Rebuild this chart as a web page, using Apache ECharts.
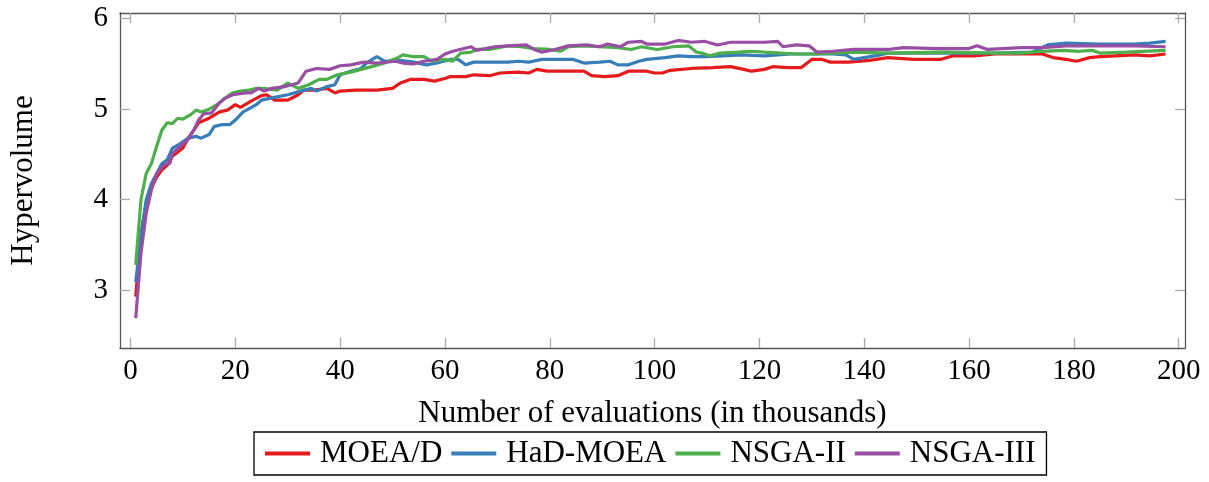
<!DOCTYPE html>
<html>
<head>
<meta charset="utf-8">
<title>Hypervolume</title>
<script src="https://cdn.jsdelivr.net/npm/echarts@6/dist/echarts.min.js"></script>
<style>
  html, body { margin: 0; padding: 0; background: #fff; }
  #main { width: 1209px; height: 482px; }
</style>
</head>
<body>
<div id="main"></div>
<script>
// legend names and colours
var names = ['MOEA/D', 'HaD-MOEA', 'NSGA-II', 'NSGA-III'];
var colors = ['#e41a1c', '#377eb8', '#4daf4a', '#984ea3'];

// tick labels
var xTicks = [0, 20, 40, 60, 80, 100, 120, 140, 160, 180, 200];
var yTicks = [3, 4, 5, 6];

// [evaluations (thousands), hypervolume]
var moead = [[1,2.93],[2,3.62],[3,3.96],[4,4.13],[5,4.25],[6,4.33],[7,4.38],[8,4.48],[10,4.57],[11,4.68],[12,4.76],[13,4.85],[15,4.90],[17,4.97],[18.5,4.99],[20,5.05],[21,5.02],[23,5.09],[25,5.15],[26,5.16],[27.5,5.10],[30,5.10],[32,5.16],[33,5.21],[35,5.21],[37.5,5.23],[39,5.18],[40,5.20],[43,5.21],[47,5.21],[50,5.23],[51.5,5.29],[53.5,5.33],[56,5.33],[58,5.31],[60,5.34],[61,5.36],[64,5.36],[65.5,5.38],[68.5,5.37],[70.5,5.40],[74,5.41],[76,5.40],[77.5,5.44],[79.5,5.42],[83.5,5.42],[86.5,5.42],[88,5.37],[90.5,5.36],[93,5.37],[95,5.42],[98.5,5.42],[100,5.40],[101.5,5.40],[103,5.43],[107,5.45],[111,5.46],[114.5,5.47],[117,5.44],[118.5,5.42],[121,5.44],[122.5,5.47],[125.5,5.46],[128,5.46],[130,5.55],[132,5.55],[133.5,5.52],[137,5.52],[141,5.54],[144.5,5.57],[149.5,5.55],[154.5,5.55],[157,5.59],[161,5.59],[165,5.61],[170,5.61],[174,5.61],[176,5.57],[178.5,5.55],[180.5,5.53],[183,5.57],[185,5.58],[188,5.59],[191.5,5.60],[194.5,5.59],[197.5,5.61]];

var hadMoea = [[1,3.09],[2,3.59],[3,4.0],[4,4.18],[6,4.40],[7,4.44],[8,4.57],[9.5,4.62],[11,4.68],[12.5,4.70],[13.5,4.68],[15,4.72],[16,4.81],[17.5,4.83],[19,4.83],[20,4.88],[21.5,4.97],[22.5,5.0],[24,5.05],[25,5.10],[27.5,5.13],[30,5.16],[32.5,5.20],[34.5,5.23],[35.5,5.20],[37.5,5.25],[39,5.27],[40,5.38],[42,5.42],[44,5.45],[45,5.51],[47,5.58],[48.5,5.53],[51.5,5.54],[54,5.52],[56.5,5.49],[58.5,5.51],[61,5.55],[62.5,5.55],[64,5.49],[65.5,5.52],[69,5.52],[72,5.52],[74,5.53],[76,5.52],[78.5,5.55],[84.5,5.55],[86.5,5.51],[89.5,5.52],[91.5,5.53],[93,5.49],[95,5.49],[97,5.53],[98.5,5.55],[102,5.57],[104.5,5.59],[107,5.58],[109.5,5.58],[113,5.59],[116.5,5.60],[121,5.59],[126,5.61],[134,5.61],[136.5,5.60],[138,5.55],[140,5.57],[143,5.60],[144.5,5.62],[155,5.62],[165,5.62],[172,5.63],[175,5.71],[178.5,5.73],[185,5.72],[191.5,5.72],[194.5,5.73],[197.5,5.75]];

var nsga2 = [[1,3.28],[2,4.0],[3,4.29],[4,4.40],[5,4.59],[6,4.77],[7,4.85],[8,4.84],[9,4.90],[10,4.89],[11.5,4.94],[12.5,4.99],[13.5,4.97],[15,5.0],[16.5,5.05],[18,5.12],[19.5,5.18],[21,5.20],[22.5,5.21],[24,5.23],[25.5,5.23],[28,5.21],[30,5.29],[32,5.23],[34,5.27],[36,5.33],[37.5,5.33],[39.5,5.38],[42,5.41],[44,5.44],[46,5.47],[48.5,5.51],[51,5.57],[52,5.60],[54,5.58],[56,5.58],[57.5,5.53],[60,5.55],[61.5,5.53],[63,5.62],[65,5.63],[66,5.66],[68.5,5.66],[72,5.70],[74.5,5.69],[77,5.67],[80,5.66],[82,5.64],[83.5,5.69],[86.5,5.70],[89.5,5.69],[93,5.68],[95.5,5.66],[97.5,5.69],[100.5,5.66],[103.5,5.69],[106.5,5.70],[108,5.63],[109,5.62],[110.5,5.59],[112.5,5.62],[116,5.63],[118.5,5.64],[121,5.63],[124,5.62],[127,5.61],[130.5,5.61],[134,5.62],[138,5.63],[145,5.62],[155,5.63],[165,5.62],[170,5.62],[174,5.64],[178,5.65],[181,5.64],[183.5,5.65],[185,5.62],[190,5.63],[197.5,5.65]];

var nsga3 = [[1,2.69],[2,3.41],[3,3.85],[4,4.11],[5,4.29],[6.5,4.39],[7.5,4.40],[8,4.51],[9.5,4.59],[11,4.67],[12,4.76],[13,4.88],[14,4.95],[15.5,4.96],[17,5.07],[18,5.12],[19.5,5.16],[22,5.18],[23,5.18],[24.5,5.23],[25.5,5.20],[27,5.23],[29.5,5.25],[32,5.29],[33.5,5.42],[35.5,5.45],[38,5.44],[40,5.48],[42,5.49],[44.5,5.52],[47,5.51],[50.5,5.53],[52,5.51],[54,5.50],[56,5.53],[58.5,5.55],[60,5.61],[61.5,5.64],[65,5.69],[66,5.65],[69.5,5.69],[72,5.70],[75.5,5.71],[77,5.66],[78.5,5.63],[81,5.66],[83.5,5.70],[87,5.71],[89.5,5.69],[91,5.72],[93.5,5.69],[95,5.74],[97.5,5.75],[98.5,5.72],[102,5.72],[104.5,5.76],[107,5.74],[109.5,5.75],[112,5.71],[114.5,5.74],[121,5.74],[123.5,5.75],[124.5,5.69],[127,5.71],[129.5,5.70],[131,5.63],[134,5.64],[138,5.66],[144.5,5.66],[147.5,5.68],[154,5.67],[160,5.67],[161.5,5.70],[163.5,5.66],[170,5.68],[174,5.68],[178.5,5.70],[185,5.70],[191.5,5.70],[197.5,5.69]];

var seriesData = [moead, hadMoea, nsga2, nsga3];

var myChart = echarts.init(document.getElementById('main'));
var font = 'Liberation Serif';
var frame = '#555';
var tickCol = '#aaa';

var series = [];
for (var i = 0; i < seriesData.length; i++) {
    series.push({
        name: names[i],
        type: 'line',
        data: seriesData[i],
        showSymbol: false,
        symbol: 'none',
        lineStyle: { width: 3.2, color: colors[i] },
        itemStyle: { color: colors[i] },
        z: 2 + i
    });
}

function xAx(pos, main) {
    return {
        type: 'value', position: pos, min: -2, max: 201.2,
        name: main ? 'Number of evaluations (in thousands)' : '',
        nameLocation: 'middle', nameGap: 50,
        nameTextStyle: { fontFamily: font, fontSize: 31, color: '#000' },
        axisLine: { show: true, onZero: false, lineStyle: { color: frame, width: 1.3 } },
        axisTick: { show: true, inside: true, length: 10, customValues: xTicks, lineStyle: { color: tickCol, width: 1.3 } },
        axisLabel: { show: main, customValues: xTicks, fontFamily: font, fontSize: 29, color: '#000', margin: 9 },
        splitLine: { show: false }
    };
}
function yAx(pos, main) {
    return {
        type: 'value', position: pos, min: 2.361, max: 6.063,
        name: main ? 'Hypervolume' : '',
        nameLocation: 'middle', nameGap: 81, nameRotate: 90,
        nameTextStyle: { fontFamily: font, fontSize: 31, color: '#000' },
        axisLine: { show: true, onZero: false, lineStyle: { color: frame, width: 1.3 } },
        axisTick: { show: true, inside: true, length: 10, customValues: yTicks, lineStyle: { color: tickCol, width: 1.3 } },
        axisLabel: { show: main, customValues: yTicks, fontFamily: font, fontSize: 29, color: '#000', margin: 12 },
        splitLine: { show: false }
    };
}

var option = {
    animation: false,
    backgroundColor: '#fff',
    grid: { left: 119, right: 24, top: 13, bottom: 134 },
    legend: {
        data: names,
        bottom: 7,
        left: 254,
        icon: 'rect',
        itemWidth: 45,
        itemHeight: 4,
        itemGap: 9,
        selectedMode: false,
        borderColor: '#000',
        borderWidth: 1.3,
        padding: [6, 11, 6, 11],
        textStyle: { fontFamily: font, fontSize: 31, color: '#000', padding: [0, 0, 0, 5] }
    },
    xAxis: [xAx('bottom', true), xAx('top', false)],
    yAxis: [yAx('left', true), yAx('right', false)],
    series: series
};
myChart.setOption(option);
</script>
</body>
</html>
